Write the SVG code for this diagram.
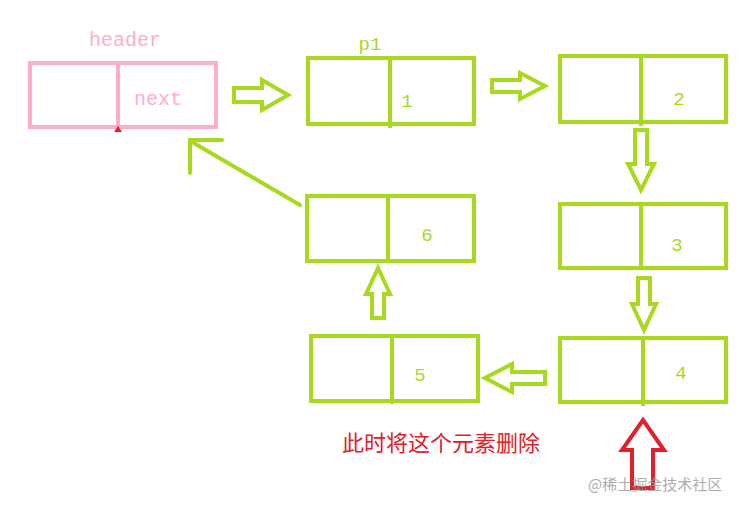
<svg xmlns="http://www.w3.org/2000/svg" width="745" height="507" viewBox="0 0 745 507">
<style>
.g{fill:none;stroke:#a9d91f;stroke-width:4}
.p{fill:none;stroke:#ffadc8;stroke-width:4}
.a{fill:#fff;stroke:#a9d91f;stroke-width:4;stroke-linejoin:miter}
.t{font-family:"Liberation Mono",monospace;font-size:19px;fill:#a9d91f}
.tp{font-family:"Liberation Mono",monospace;font-size:20px;fill:#ffadc8}
</style>
<rect width="745" height="507" fill="#fff"/>
<g id="header"><rect class="p" x="30" y="63" width="186" height="64"/><line class="p" x1="118" y1="63" x2="118" y2="127"/><path d="M114,132 L118,126 L122,132Z" fill="#e02030"/><text class="tp" x="125" y="46" text-anchor="middle">header</text><text class="tp" x="158" y="105" text-anchor="middle">next</text></g>
<g id="n1"><rect class="g" x="308" y="58" width="166" height="66"/><line class="g" x1="390" y1="58" x2="390" y2="128"/><text class="t" x="370" y="50" text-anchor="middle">p1</text><text class="t" x="407" y="107" text-anchor="middle">1</text></g>
<g id="n2"><rect class="g" x="560" y="56" width="166" height="66"/><line class="g" x1="641" y1="56" x2="641" y2="126"/><text class="t" x="679" y="105" text-anchor="middle">2</text></g>
<g id="n3"><rect class="g" x="560" y="204" width="166" height="64"/><line class="g" x1="641" y1="204" x2="641" y2="270"/><text class="t" x="677" y="251" text-anchor="middle">3</text></g>
<g id="n4"><rect class="g" x="560" y="338" width="166" height="64"/><line class="g" x1="643" y1="338" x2="643" y2="406"/><text class="t" x="681" y="379" text-anchor="middle">4</text></g>
<g id="n5"><rect class="g" x="311" y="336" width="167" height="65"/><line class="g" x1="392" y1="336" x2="392" y2="404"/><text class="t" x="420" y="381" text-anchor="middle">5</text></g>
<g id="n6"><rect class="g" x="307" y="196" width="167" height="65"/><line class="g" x1="388" y1="196" x2="388" y2="261"/><text class="t" x="427" y="241" text-anchor="middle">6</text></g>
<g id="connectors">
<path class="a" d="M234,88 H262 V80 L288,95 L262,110 V102 H234Z"/>
<path class="a" d="M492,80 H520 V73 L545,86 L520,99 V92 H492Z"/>
<path class="a" d="M635,130 V164 H628 L641,190 L654,164 H647 V130Z"/>
<path class="a" d="M638,278 V304 H632 L644,330 L656,304 H650 V278Z"/>
<path class="a" d="M545,372 H512 V364 L485,378 L512,392 V384 H545Z"/>
<path class="a" d="M372,318 V294 H366 L378,268 L390,294 H384 V318Z"/>
<path class="g" d="M300,205 L192,142 M190,173 V140 H222" stroke-linecap="round"/>
<path d="M632,488 V450 H622 L643,420 L664,450 H653 V488Z" fill="#fff" stroke="#e0202a" stroke-width="4"/>
</g>
<text x="342" y="451" font-family="'Noto Sans CJK SC',sans-serif" font-size="22" fill="#e0202a">此时将这个元素删除</text>
<text x="588" y="490" font-family="'Noto Sans CJK SC',sans-serif" font-size="15" fill="#999" opacity="0.8">@稀土掘金技术社区</text>
</svg>
